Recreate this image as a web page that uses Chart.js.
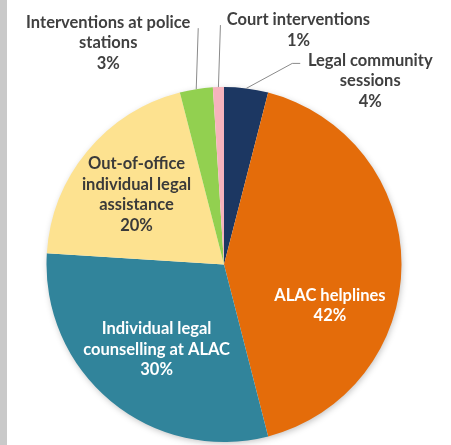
<!DOCTYPE html>
<html>
<head>
<meta charset="utf-8">
<script src="https://cdn.jsdelivr.net/npm/chart.js@4.4.1/dist/chart.umd.min.js"></script>
<style>
    html, body { margin: 0; padding: 0; background: #ffffff; }
    #wrap {
        position: relative;
        width: 451px;
        height: 445px;
        overflow: hidden;
    }
    #strip {
        position: absolute;
        left: 0; top: 0;
        width: 7px; height: 445px;
        background: #c9c9c9;
    }
    #chart { position: absolute; left: 0; top: 0; }
</style>
</head>
<body>
<div id="wrap">
    <div id="strip"></div>
    <canvas id="chart" width="451" height="445"></canvas>
</div>
<script>
// Slices, clockwise from 12 o'clock
const categories = [
    "Legal community sessions",
    "ALAC helplines",
    "Individual legal counselling at ALAC",
    "Out-of-office individual legal assistance",
    "Interventions at police stations",
    "Court interventions"
];
const shares = [4, 42, 30, 20, 3, 1];

// Text as printed on the chart (line breaks as in the picture)
const labelLines = [
    ["Legal community", "sessions", "4%"],
    ["ALAC helplines", "42%"],
    ["Individual legal", "counselling at ALAC", "30%"],
    ["Out-of-office", "individual legal", "assistance", "20%"],
    ["Interventions at police", "stations", "3%"],
    ["Court interventions", "1%"]
];

const sliceColours = ["#1c3762", "#e46c0a", "#31849b", "#fde290", "#92d050", "#f6b3bc"];

// Where each label sits. Inside labels: fraction of radius + position along the arc.
// Outside labels: offsets from the arc edge at the slice middle, plus leader line.
const labelPlacement = [
    { outside: true, text: [124, -28], line: [[46, -25], [54, -25]], colour: "#404040" },
    { frac: 0.64, t: 0.64, colour: "#ffffff" },
    { frac: 0.61, t: 0.49, colour: "#ffffff" },
    { frac: 0.63, t: 0.485, colour: "#3a3a3a" },
    { outside: true, text: [-88, -67], line: [[2, -61]], colour: "#404040" },
    { outside: true, text: [80, -67], line: [[2, -62]], colour: "#404040" }
];

const shadowPlugin = {
    id: "pieShadow",
    beforeDatasetsDraw(chart) {
        const arc = chart.getDatasetMeta(0).data[0];
        if (!arc) return;
        const ctx = chart.ctx;
        ctx.save();
        ctx.shadowColor = "rgba(0, 0, 0, 0.28)";
        ctx.shadowBlur = 7;
        ctx.shadowOffsetX = 1;
        ctx.shadowOffsetY = 2;
        ctx.fillStyle = "#ffffff";
        ctx.beginPath();
        ctx.arc(arc.x, arc.y, arc.outerRadius - 1, 0, Math.PI * 2);
        ctx.fill();
        ctx.restore();
    }
};

const labelPlugin = {
    id: "sliceLabels",
    afterDatasetsDraw(chart) {
        const ctx = chart.ctx;
        const arcs = chart.getDatasetMeta(0).data;
        const lineHeight = 20.5;
        ctx.save();
        ctx.font = "bold 16.5px Lato, 'Open Sans', sans-serif";
        ctx.textAlign = "center";
        ctx.textBaseline = "middle";

        arcs.forEach((arc, i) => {
            const p = labelPlacement[i];
            const lines = labelLines[i];
            let cx, cy;
            if (p.outside) {
                const mid = (arc.startAngle + arc.endAngle) / 2;
                const ex = arc.x + Math.cos(mid) * arc.outerRadius;
                const ey = arc.y + Math.sin(mid) * arc.outerRadius;
                // leader line
                ctx.strokeStyle = "#8a8a8a";
                ctx.lineWidth = 1;
                ctx.beginPath();
                ctx.moveTo(ex, ey);
                p.line.forEach(pt => ctx.lineTo(ex + pt[0], ey + pt[1]));
                ctx.stroke();
                cx = ex + p.text[0];
                cy = ey + p.text[1];
            } else {
                const ang = arc.startAngle + p.t * (arc.endAngle - arc.startAngle);
                const r = arc.outerRadius * p.frac;
                cx = arc.x + Math.cos(ang) * r;
                cy = arc.y + Math.sin(ang) * r - (lines.length - 1) * lineHeight / 2;
            }
            ctx.fillStyle = p.colour;
            lines.forEach((txt, k) => ctx.fillText(txt, cx, cy + k * lineHeight));
        });
        ctx.restore();
    }
};

new Chart(document.getElementById("chart"), {
    type: "pie",
    data: {
        labels: categories,
        datasets: [{
            data: shares,
            backgroundColor: sliceColours,
            borderWidth: 0
        }]
    },
    options: {
        responsive: false,
        animation: false,
        layout: {
            padding: { left: 46, right: 49, top: 87, bottom: 3 }
        },
        plugins: {
            legend: { display: false },
            tooltip: { enabled: false }
        }
    },
    plugins: [shadowPlugin, labelPlugin]
});
</script>
</body>
</html>
